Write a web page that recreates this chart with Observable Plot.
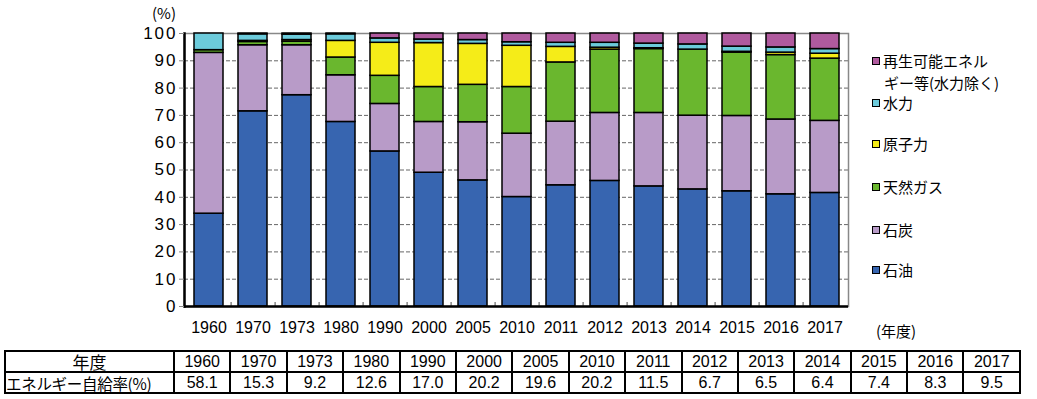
<!DOCTYPE html>
<html><head><meta charset="utf-8">
<script src="https://cdn.jsdelivr.net/npm/d3@7"></script>
<script src="https://cdn.jsdelivr.net/npm/@observablehq/plot@0.6"></script>
<style>
body{margin:0;background:#fff;font-family:"Liberation Sans",Arial,"Noto Sans CJK JP",sans-serif;color:#000;}
#wrap{position:relative;width:1037px;height:399px;overflow:hidden;}
#chart{position:absolute;left:0;top:0;}
#chart g[aria-label="y-axis tick label"] text{letter-spacing:2px;}
#chart g[aria-label="x-axis tick label"]{font-size:16px;}
.lab{position:absolute;font-size:15px;white-space:nowrap;line-height:1;}
.jp{font-family:"Noto Sans CJK JP",sans-serif;}
.leg{position:absolute;left:872px;font-family:"Noto Sans CJK JP",sans-serif;font-size:15px;line-height:1;white-space:nowrap;}
.leg .sw{display:inline-block;width:6px;height:6px;border:1.5px solid #000;margin-right:3px;vertical-align:2px;}
#tbl{position:absolute;left:4px;top:350px;border-collapse:collapse;table-layout:fixed;width:1017px;}
#tbl td{border:2px solid #000;padding:0;height:19px;text-align:center;font-size:16px;line-height:18px;font-family:"Liberation Sans",Arial,sans-serif;}
#tbl td.h{font-family:"Noto Sans CJK JP",sans-serif;font-size:15.5px;}
</style></head>
<body><div id="wrap"><div id="chart"></div><div id="extra"></div><table id="tbl"></table></div>
<script>
const years = ["1960","1970","1973","1980","1990","2000","2005","2010","2011","2012","2013","2014","2015","2016","2017"];
const sources = ["石油","石炭","天然ガス","原子力","水力","再生可能エネルギー等(水力除く)"];
const colors = ["#3765b0","#b89bc8","#6ab72e","#f5ec18","#6ccbdb","#b05a9e"];
const oil     = [34.0,71.5,77.4,67.6,56.8,49.0,46.2,40.1,44.4,46.0,44.0,42.9,42.2,41.1,41.6];
const coal    = [58.9,24.2,18.3,17.1,17.4,18.6,21.3,23.2,23.3,24.9,26.9,27.0,27.6,27.4,26.4];
const gas     = [1.0,1.2,1.3,6.5,10.3,12.8,13.7,17.1,21.7,23.2,23.4,24.2,23.2,23.6,22.8];
const nuclear = [0.0,0.4,0.6,6.1,12.1,16.1,15.0,15.1,5.7,0.7,0.3,0.0,0.3,0.9,1.8];
const hydro   = [6.1,2.4,2.0,2.4,1.6,1.3,1.4,1.3,1.5,1.8,1.7,1.9,1.9,1.9,1.7];
const renew   = [0.0,0.3,0.4,0.3,1.8,2.2,2.4,3.2,3.4,3.4,3.7,4.0,4.8,5.1,5.7];
const selfSufficiency = ["58.1","15.3","9.2","12.6","17.0","20.2","19.6","20.2","11.5","6.7","6.5","6.4","7.4","8.3","9.5"];
const yTicks = [0,10,20,30,40,50,60,70,80,90,100];

const series = [oil, coal, gas, nuclear, hydro, renew];
const data = [];
years.forEach((yr, i) => series.forEach((s, j) => data.push({year: yr, source: sources[j], value: s[i]})));

const W = 1037, H = 340, ML = 184, MR = 189;
const step = (W - ML - MR) / years.length;

const chart = Plot.plot({
  width: W, height: H,
  marginLeft: ML, marginRight: MR, marginTop: 33, marginBottom: 34,
  x: {domain: years, paddingInner: 0.345, paddingOuter: 0.1725, label: null},
  y: {domain: [0, 100], label: null},
  color: {domain: sources, range: colors},
  style: {fontFamily: "Liberation Sans, Arial, sans-serif", color: "#000", background: "#fff", overflow: "visible"},
  marks: [
    Plot.gridY(yTicks, {stroke: "#666", strokeOpacity: 1, strokeDasharray: "4,2"}),
    Plot.frame({stroke: "#888", strokeWidth: 1.5}),
    Plot.barY(data, {x: "year", y: "value", fill: "source", stroke: "#000", strokeWidth: 1.5}),
    Plot.ruleX(years.slice(0, -1), {x: d => d, dx: step / 2, y1: 0, y2: 1.5, stroke: "#888", strokeWidth: 1.5}),
    Plot.ruleY([0], {stroke: "#000", strokeWidth: 2.5}),
    Plot.frame({anchor: "left", stroke: "#000", strokeWidth: 2.5}),
    Plot.axisY(yTicks, {tickSize: 5, tickPadding: 2, stroke: "#888", fontSize: 17, label: null}),
    Plot.axisX({tickSize: 0, tickPadding: 15, fontSize: 16, label: null})
  ]
});
document.getElementById("chart").appendChild(chart);

// extra labels and legend
const extra = document.getElementById("extra");
function add(html, cls, left, top) {
  const d = document.createElement("div");
  d.className = cls; d.innerHTML = html;
  d.style.left = left + "px"; d.style.top = top + "px";
  extra.appendChild(d);
}
add("(%)", "lab jp", 152, 5);
add("(年度)", "lab jp", 876, 323);
const legendItems = [
  {i: 5, top: 53, text: "再生可能エネル"},
  {i: 4, top: 95, text: "水力"},
  {i: 3, top: 136, text: "原子力"},
  {i: 2, top: 179, text: "天然ガス"},
  {i: 1, top: 222, text: "石炭"},
  {i: 0, top: 262, text: "石油"}
];
legendItems.forEach(it => {
  add(`<span class="sw" style="background:${colors[it.i]}"></span>${it.text}`, "leg", 872, it.top);
});
add("ギー等(水力除く)", "leg", 884, 75);

// table
const tbl = document.getElementById("tbl");
const cg = document.createElement("colgroup");
cg.innerHTML = `<col style="width:169px">` + years.map(() => `<col>`).join("");
tbl.appendChild(cg);
const r1 = tbl.insertRow();
r1.innerHTML = `<td class="h" style="font-size:17px">年度</td>` + years.map(y => `<td>${y}</td>`).join("");
const r2 = tbl.insertRow();
r2.innerHTML = `<td class="h" style="text-align:left;letter-spacing:-0.3px">エネルギー自給率(%)</td>` + selfSufficiency.map(v => `<td>${v}</td>`).join("");
</script>
</body></html>
